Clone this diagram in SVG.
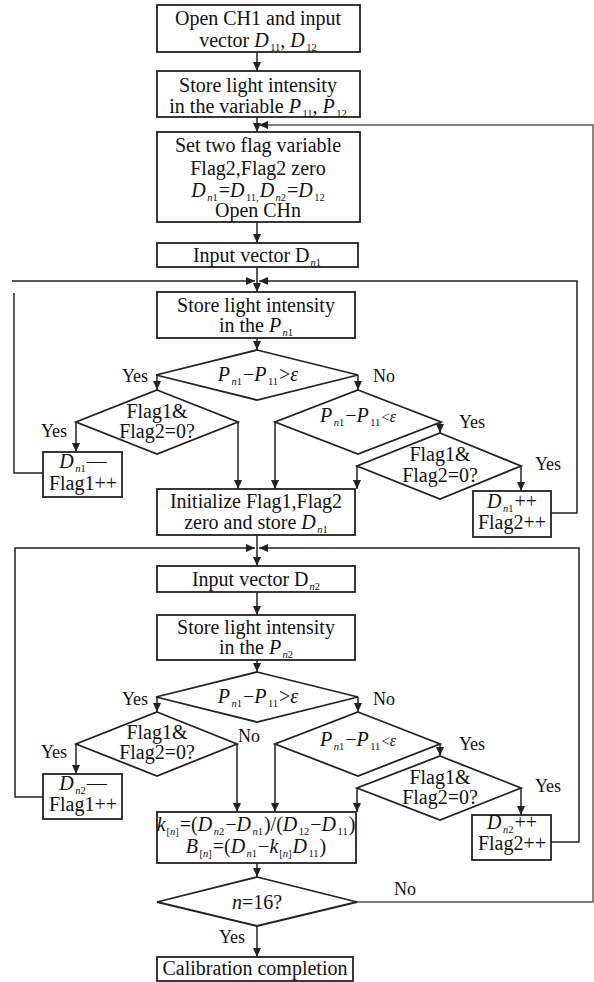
<svg xmlns="http://www.w3.org/2000/svg" width="594" height="982" viewBox="0 0 594 982">
<style>
.b{fill:#fff;stroke:#222;stroke-width:1.8}
.c{fill:none;stroke:#222;stroke-width:1.5}
.o{fill:none;stroke:#555;stroke-width:1.4}
text{font-family:"Liberation Serif","Times New Roman",serif;font-size:20px;fill:#111;text-anchor:middle}
.l{font-size:18px}
.i{font-style:italic}
.s{font-size:10.5px}
</style>
<defs>
<marker id="a" markerUnits="userSpaceOnUse" markerWidth="10" markerHeight="8" refX="9" refY="4" orient="auto">
<path d="M0,0 L9,4 L0,8 z" fill="#222"/>
</marker>
</defs>
<rect width="594" height="982" fill="#fff"/>
<g id="connectors">
<line class="c" x1="257" y1="52" x2="257" y2="71" marker-end="url(#a)"/>
<line class="c" x1="257" y1="117" x2="257" y2="132" marker-end="url(#a)"/>
<polyline class="o" points="357,902 593,902 593,125 259,125" marker-end="url(#a)"/>
<line class="c" x1="257" y1="222" x2="257" y2="243" marker-end="url(#a)"/>
<line class="c" x1="257" y1="267" x2="257" y2="292" marker-end="url(#a)"/>
<line class="c" x1="12" y1="281" x2="255" y2="281" marker-end="url(#a)"/>
<polyline class="c" points="551,513 577,513 577,281 259,281" marker-end="url(#a)"/>
<polyline class="c" points="43,473 14,473 14,293"/>
<line class="c" x1="257" y1="338" x2="257" y2="350" marker-end="url(#a)"/>
<line class="c" x1="157" y1="375" x2="157" y2="390" marker-end="url(#a)"/>
<line class="c" x1="358" y1="375" x2="358" y2="390" marker-end="url(#a)"/>
<line class="c" x1="76" y1="422" x2="76" y2="452" marker-end="url(#a)"/>
<line class="c" x1="238" y1="422" x2="238" y2="489" marker-end="url(#a)"/>
<line class="c" x1="275" y1="422" x2="275" y2="489" marker-end="url(#a)"/>
<line class="c" x1="440" y1="422" x2="440" y2="433" marker-end="url(#a)"/>
<line class="c" x1="357" y1="466" x2="357" y2="489" marker-end="url(#a)"/>
<line class="c" x1="521" y1="466" x2="521" y2="491" marker-end="url(#a)"/>
<line class="c" x1="257" y1="535" x2="257" y2="566" marker-end="url(#a)"/>
<polyline class="c" points="43,797 15,797 15,548 255,548" marker-end="url(#a)"/>
<polyline class="c" points="551,842 579,842 579,548 259,548" marker-end="url(#a)"/>
<line class="c" x1="257" y1="592" x2="257" y2="615" marker-end="url(#a)"/>
<line class="c" x1="257" y1="660" x2="257" y2="672" marker-end="url(#a)"/>
<line class="c" x1="157" y1="697" x2="157" y2="712" marker-end="url(#a)"/>
<line class="c" x1="358" y1="697" x2="358" y2="712" marker-end="url(#a)"/>
<line class="c" x1="76" y1="744" x2="76" y2="774" marker-end="url(#a)"/>
<line class="c" x1="237" y1="744" x2="237" y2="812" marker-end="url(#a)"/>
<line class="c" x1="275" y1="744" x2="275" y2="812" marker-end="url(#a)"/>
<line class="c" x1="440" y1="744" x2="440" y2="756" marker-end="url(#a)"/>
<line class="c" x1="357" y1="788" x2="357" y2="812" marker-end="url(#a)"/>
<line class="c" x1="521" y1="788" x2="521" y2="815" marker-end="url(#a)"/>
<line class="c" x1="257" y1="863" x2="257" y2="877" marker-end="url(#a)"/>
<line class="c" x1="257" y1="926" x2="257" y2="957" marker-end="url(#a)"/>
</g>
<g id="labels">
<text class="l" x="135" y="382">Yes</text>
<text class="l" x="384" y="382">No</text>
<text class="l" x="54" y="437">Yes</text>
<text class="l" x="472" y="428">Yes</text>
<text class="l" x="548" y="470">Yes</text>
<text class="l" x="135" y="705">Yes</text>
<text class="l" x="384" y="705">No</text>
<text class="l" x="54" y="758">Yes</text>
<text class="l" x="249" y="742">No</text>
<text class="l" x="472" y="750">Yes</text>
<text class="l" x="548" y="792">Yes</text>
<text class="l" x="405" y="895">No</text>
<text class="l" x="232" y="943">Yes</text>
</g>
<g id="n1"><rect class="b" x="157" y="5" width="203" height="47"/>
<text x="258" y="25">Open CH1 and input</text>
<text x="258" y="47">vector <tspan class="i">D</tspan><tspan class="s" dx="1.5" dy="4">11</tspan><tspan dy="-4">, </tspan><tspan class="i">D</tspan><tspan class="s" dx="1.5" dy="4">12</tspan></text></g>
<g id="n2"><rect class="b" x="157" y="71" width="203" height="46"/>
<text x="258" y="92">Store light intensity</text>
<text x="258" y="113">in the variable <tspan class="i">P</tspan><tspan class="s" dx="1.5" dy="4">11</tspan><tspan dy="-4">, </tspan><tspan class="i">P</tspan><tspan class="s" dx="1.5" dy="4">12</tspan></text></g>
<g id="n3"><rect class="b" x="157" y="132" width="203" height="90"/>
<text x="258" y="152">Set two flag variable</text>
<text x="258" y="175">Flag2,Flag2 zero</text>
<text x="258" y="197"><tspan class="i">D</tspan><tspan class="s" dx="1.5" dy="4"><tspan class="i">n</tspan>1</tspan><tspan dx="1" dy="-4">=</tspan><tspan class="i">D</tspan><tspan class="s" dx="1.5" dy="4">11,</tspan><tspan class="i" dx="1" dy="-4">D</tspan><tspan class="s" dx="1.5" dy="4"><tspan class="i">n</tspan>2</tspan><tspan dx="1" dy="-4">=</tspan><tspan class="i">D</tspan><tspan class="s" dx="1.5" dy="4">12</tspan></text>
<text x="258" y="217">Open CHn</text></g>
<g id="n4"><rect class="b" x="157" y="243" width="201" height="24"/>
<text x="257" y="262">Input vector D<tspan class="s" dx="1" dy="4"><tspan class="i">n</tspan>1</tspan></text></g>
<g id="n5"><rect class="b" x="157" y="292" width="198" height="46"/>
<text x="256" y="312">Store light intensity</text>
<text x="256" y="332">in the <tspan class="i">P</tspan><tspan class="s" dx="1.5" dy="4"><tspan class="i">n</tspan>1</tspan></text></g>
<g id="d1"><polygon class="b" points="257,350 358,375 257,400 156,375"/>
<text x="258" y="381"><tspan class="i">P</tspan><tspan class="s" dx="1.5" dy="4"><tspan class="i">n</tspan>1</tspan><tspan dx="1" dy="-4">−</tspan><tspan class="i">P</tspan><tspan class="s" dx="1.5" dy="4">11</tspan><tspan dx="1" dy="-4">&gt;</tspan><tspan class="i">ε</tspan></text></g>
<g id="d2"><polygon class="b" points="157,390 238,422 157,454 76,422"/>
<text x="157" y="418">Flag1&amp;</text>
<text x="157" y="438">Flag2=0?</text></g>
<g id="d3"><polygon class="b" points="358,390 441,422 358,454 275,422"/>
<text x="358" y="422"><tspan class="i">P</tspan><tspan class="s" dx="1.5" dy="4"><tspan class="i">n</tspan>1</tspan><tspan dx="1" dy="-4">−</tspan><tspan class="i">P</tspan><tspan class="s" dx="1.5" dy="4">11</tspan><tspan dx="1" dy="-4" style="font-size:15px">&lt;</tspan><tspan class="i" style="font-size:16px">ε</tspan></text></g>
<g id="d4"><polygon class="b" points="440,433 521,466 440,499 357,466"/>
<text x="440" y="461">Flag1&amp;</text>
<text x="440" y="482">Flag2=0?</text></g>
<g id="n6"><rect class="b" x="43" y="452" width="79" height="45"/>
<text x="83" y="468"><tspan class="i">D</tspan><tspan class="s" dx="1.5" dy="4"><tspan class="i">n</tspan>1</tspan><tspan dx="1" dy="-4">––</tspan></text>
<text x="83" y="490">Flag1++</text></g>
<g id="n7"><rect class="b" x="157" y="489" width="198" height="46"/>
<text x="256" y="508">Initialize Flag1,Flag2</text>
<text x="256" y="529">zero  and store <tspan class="i">D</tspan><tspan class="s" dx="1.5" dy="4"><tspan class="i">n</tspan>1</tspan></text></g>
<g id="n8"><rect class="b" x="473" y="491" width="78" height="46"/>
<text x="512" y="508"><tspan class="i">D</tspan><tspan class="s" dx="1.5" dy="4"><tspan class="i">n</tspan>1</tspan><tspan dx="1" dy="-4">++</tspan></text>
<text x="512" y="529">Flag2++</text></g>
<g id="n9"><rect class="b" x="157" y="566" width="198" height="26"/>
<text x="256" y="586">Input vector D<tspan class="s" dx="1" dy="4"><tspan class="i">n</tspan>2</tspan></text></g>
<g id="n10"><rect class="b" x="157" y="615" width="198" height="45"/>
<text x="256" y="634">Store light intensity</text>
<text x="256" y="654">in the <tspan class="i">P</tspan><tspan class="s" dx="1.5" dy="4"><tspan class="i">n</tspan>2</tspan></text></g>
<g id="d5"><polygon class="b" points="257,672 358,697 257,722 156,697"/>
<text x="258" y="703"><tspan class="i">P</tspan><tspan class="s" dx="1.5" dy="4"><tspan class="i">n</tspan>1</tspan><tspan dx="1" dy="-4">−</tspan><tspan class="i">P</tspan><tspan class="s" dx="1.5" dy="4">11</tspan><tspan dx="1" dy="-4">&gt;</tspan><tspan class="i">ε</tspan></text></g>
<g id="d6"><polygon class="b" points="157,712 237,744 157,776 76,744"/>
<text x="157" y="739">Flag1&amp;</text>
<text x="157" y="759">Flag2=0?</text></g>
<g id="d7"><polygon class="b" points="358,712 440,744 358,776 275,744"/>
<text x="358" y="746"><tspan class="i">P</tspan><tspan class="s" dx="1.5" dy="4"><tspan class="i">n</tspan>1</tspan><tspan dx="1" dy="-4">−</tspan><tspan class="i">P</tspan><tspan class="s" dx="1.5" dy="4">11</tspan><tspan dx="1" dy="-4" style="font-size:15px">&lt;</tspan><tspan class="i" style="font-size:16px">ε</tspan></text></g>
<g id="d8"><polygon class="b" points="440,756 521,788 440,820 357,788"/>
<text x="440" y="784">Flag1&amp;</text>
<text x="440" y="804">Flag2=0?</text></g>
<g id="n11"><rect class="b" x="43" y="774" width="79" height="45"/>
<text x="83" y="790"><tspan class="i">D</tspan><tspan class="s" dx="1.5" dy="4"><tspan class="i">n</tspan>2</tspan><tspan dx="1" dy="-4">––</tspan></text>
<text x="83" y="811">Flag1++</text></g>
<g id="n12"><rect class="b" x="157" y="812" width="199" height="51"/>
<text x="256" y="831"><tspan class="i">k</tspan><tspan class="s" dx="1" dy="4">[<tspan class="i">n</tspan>]</tspan><tspan dx="1" dy="-4">=(</tspan><tspan class="i">D</tspan><tspan class="s" dx="1.5" dy="4"><tspan class="i">n</tspan>2</tspan><tspan dx="1" dy="-4">−</tspan><tspan class="i">D</tspan><tspan class="s" dx="1.5" dy="4"><tspan class="i">n</tspan>1</tspan><tspan dx="1" dy="-4">)/(</tspan><tspan class="i">D</tspan><tspan class="s" dx="1.5" dy="4">12</tspan><tspan dx="1" dy="-4">−</tspan><tspan class="i">D</tspan><tspan class="s" dx="1.5" dy="4">11</tspan><tspan dx="1" dy="-4">)</tspan></text>
<text x="256" y="853"><tspan class="i">B</tspan><tspan class="s" dx="1.5" dy="4">[<tspan class="i">n</tspan>]</tspan><tspan dx="1" dy="-4">=(</tspan><tspan class="i">D</tspan><tspan class="s" dx="1.5" dy="4"><tspan class="i">n</tspan>1</tspan><tspan dx="1" dy="-4">−</tspan><tspan class="i">k</tspan><tspan class="s" dx="1" dy="4">[<tspan class="i">n</tspan>]</tspan><tspan class="i" dx="1" dy="-4">D</tspan><tspan class="s" dx="1.5" dy="4">11</tspan><tspan dx="1" dy="-4">)</tspan></text></g>
<g id="n13"><rect class="b" x="472" y="815" width="79" height="45"/>
<text x="512" y="829"><tspan class="i">D</tspan><tspan class="s" dx="1.5" dy="4"><tspan class="i">n</tspan>2</tspan><tspan dx="1" dy="-4">++</tspan></text>
<text x="512" y="850">Flag2++</text></g>
<g id="d9"><polygon class="b" points="257,877 357,902 257,926 157,902"/>
<text x="257" y="909"><tspan class="i">n</tspan>=16?</text></g>
<g id="n14"><rect class="b" x="157" y="957" width="196" height="24"/>
<text x="255" y="975">Calibration completion</text></g>
</svg>
